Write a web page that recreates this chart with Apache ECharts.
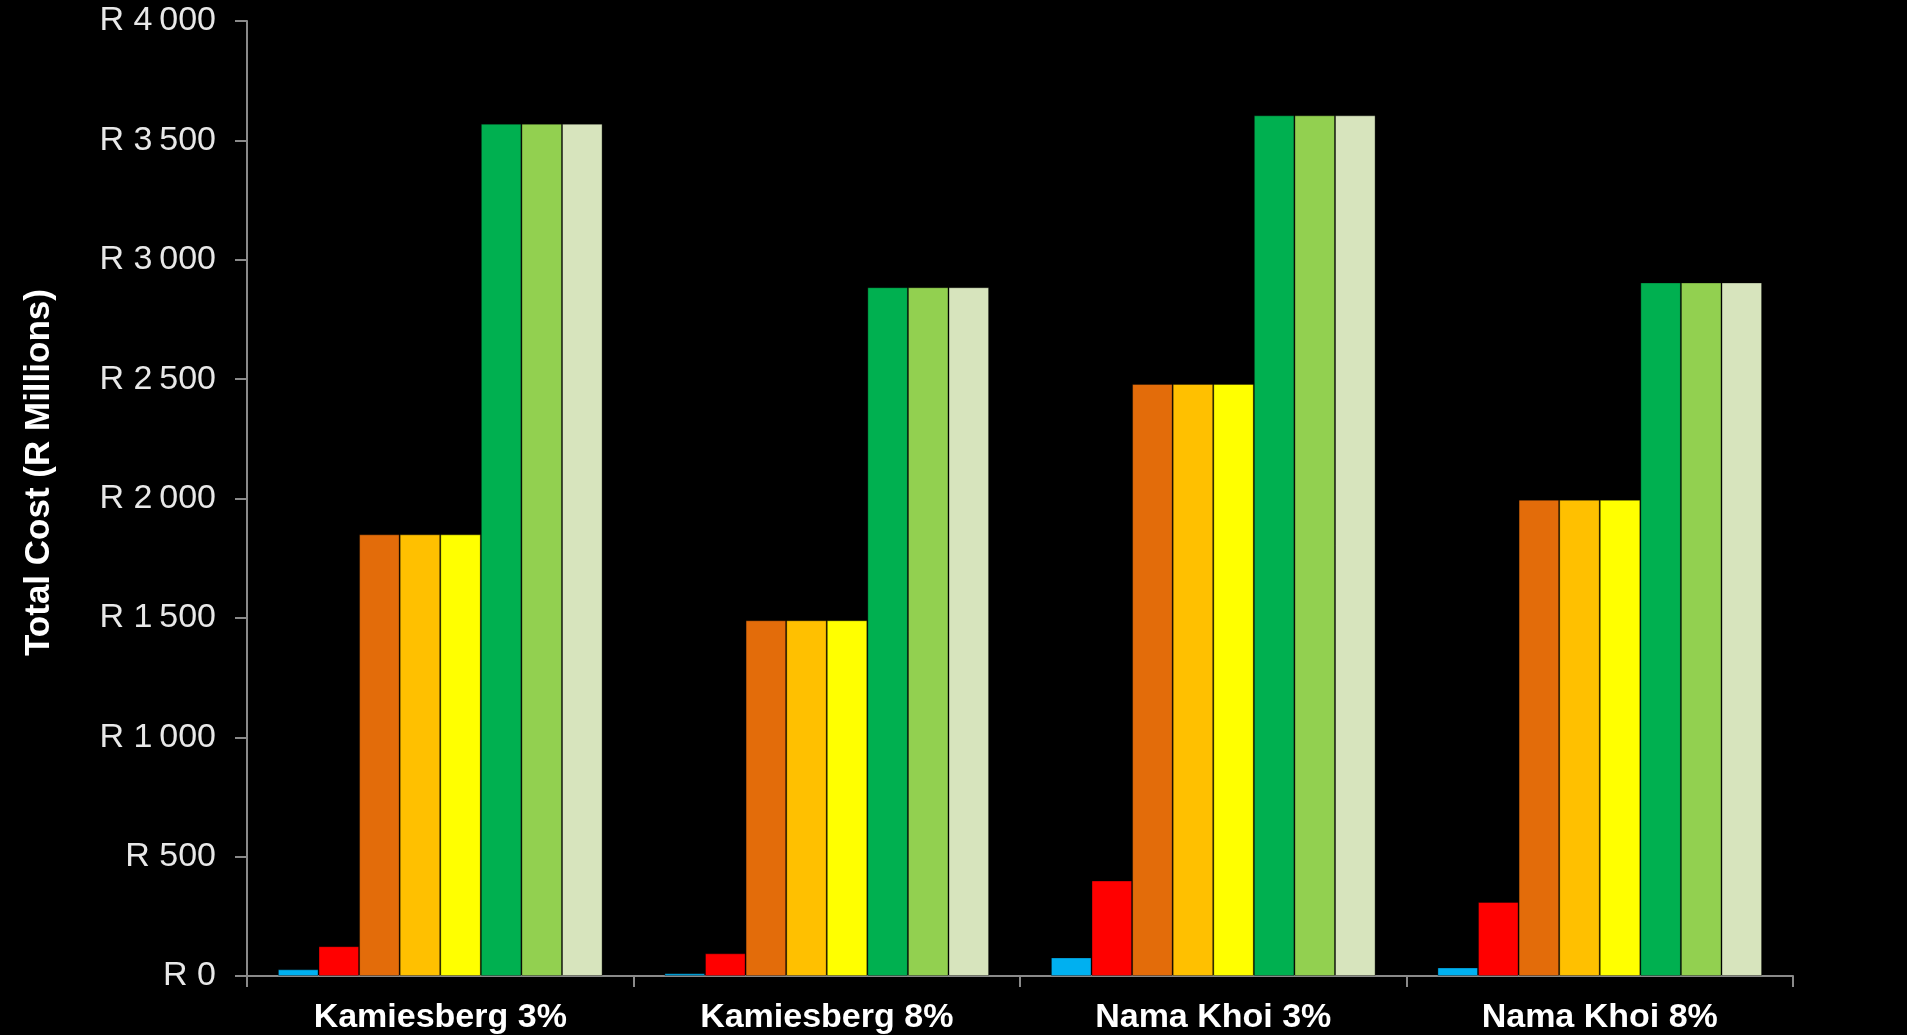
<!DOCTYPE html>
<html>
<head>
<meta charset="utf-8">
<script src="https://cdn.jsdelivr.net/npm/echarts@6/dist/echarts.min.js"></script>
<style>
html,body{margin:0;padding:0;background:#000;}
#chart{width:1907px;height:1035px;}
</style>
</head>
<body>
<div id="chart"></div>
<script>
const categories = ['Kamiesberg 3%', 'Kamiesberg 8%', 'Nama Khoi 3%', 'Nama Khoi 8%'];
const seriesNames = ['Series 1', 'Series 2', 'Series 3', 'Series 4', 'Series 5', 'Series 6', 'Series 7', 'Series 8'];
const s1 = [28, 11, 78, 36];
const s2 = [125, 95, 400, 310];
const s3 = [1850, 1490, 2480, 1995];
const s4 = [1850, 1490, 2480, 1995];
const s5 = [1850, 1490, 2480, 1995];
const s6 = [3570, 2885, 3605, 2905];
const s7 = [3570, 2885, 3605, 2905];
const s8 = [3570, 2885, 3605, 2905];
const seriesValues = [s1, s2, s3, s4, s5, s6, s7, s8];
const colors = ['#00B0F0', '#FF0000', '#E36C0A', '#FFC000', '#FFFF00', '#00B050', '#92D050', '#D7E4BD'];
const yAxisTitle = 'Total Cost (R Millions)';

function fmt(v) {
  return 'R ' + String(v).replace(/\B(?=(\d{3})+(?!\d))/g, '\u2009');
}

const chart = echarts.init(document.getElementById('chart'));
chart.setOption({
  backgroundColor: '#000000',
  animation: false,
  grid: { left: 247, right: 114, top: 21, bottom: 59 },
  xAxis: {
    type: 'category',
    data: categories,
    axisLine: { lineStyle: { color: '#8a8a8a', width: 2 } },
    axisTick: { show: true, length: 11, lineStyle: { color: '#8a8a8a', width: 2 } },
    axisLabel: {
      color: '#ffffff', fontFamily: 'Liberation Sans, Arial, sans-serif',
      fontWeight: 'bold', fontSize: 34, margin: 25
    }
  },
  yAxis: {
    type: 'value',
    min: 0, max: 4000, interval: 500,
    name: yAxisTitle,
    nameLocation: 'middle',
    nameGap: 190,
    nameTextStyle: {
      color: '#ffffff', fontFamily: 'Liberation Sans, Arial, sans-serif',
      fontWeight: 'bold', fontSize: 35, padding: [0, 0, 0, 52]
    },
    splitLine: { show: false },
    axisLine: { show: true, lineStyle: { color: '#8a8a8a', width: 2 } },
    axisTick: { show: true, length: 12, lineStyle: { color: '#8a8a8a', width: 2 } },
    axisLabel: {
      color: '#e8e8e8', fontFamily: 'Liberation Sans, Arial, sans-serif',
      fontSize: 34, margin: 31, formatter: fmt
    }
  },
  series: seriesValues.map((vals, i) => ({
    name: seriesNames[i],
    type: 'bar',
    data: vals,
    barGap: '0%',
    barCategoryGap: '16%',
    itemStyle: { color: colors[i], borderColor: 'rgba(0,0,0,0.35)', borderWidth: 1 }
  }))
});
</script>
</body>
</html>
